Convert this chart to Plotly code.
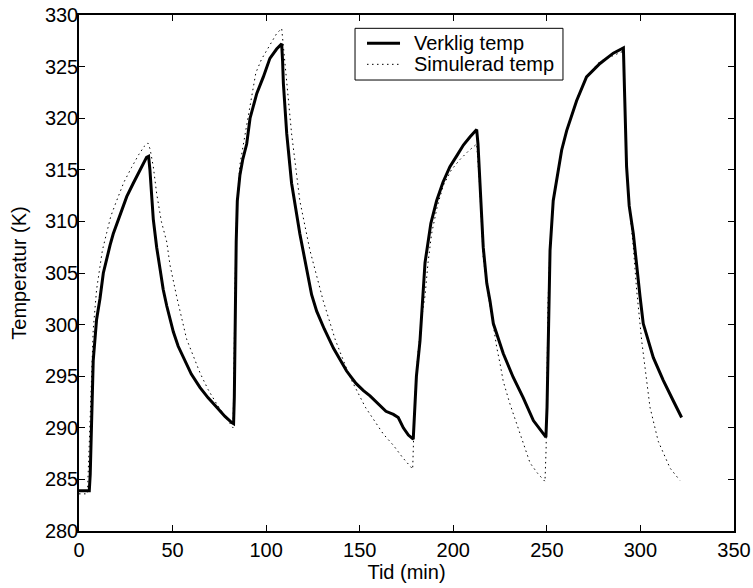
import plotly.graph_objects as go

t_real = [0, 5.5, 6.0, 6.6, 7.6, 9.4, 11.2, 13.0, 14.8, 16.6, 18.3, 21.9, 25.5, 29.0, 30.8, 32.6, 34.5, 36.1, 37.2,
          37.9, 39.7, 41.5, 43.3, 45.0, 46.9, 48.6, 50.4, 53.0, 55.7, 60.0, 64.7, 69.0, 73.6, 78.0, 81.6, 82.6,
          83.0, 83.4, 84.0, 84.6, 86.0, 87.5, 89.6, 91.4, 93.0, 95.0, 98.5, 102.0, 105.6, 108.3,
          108.8, 109.2, 111.0, 113.6, 118.0, 124.3, 127.0, 131.0, 136.0, 143.0, 148.0, 152.0, 155.5, 160.0,
          164.0, 168.0, 170.6, 173.3, 176.0, 178.6,
          179.3, 180.3, 182.2, 184.0, 184.9, 188.0, 191.1, 194.5, 198.2, 202.0, 205.4, 209.0, 212.5,
          213.2, 214.0, 216.0, 217.9, 219.6, 221.4, 225.0, 226.7, 232.0, 237.4, 242.8, 248.1, 249.5,
          250.1, 250.8, 251.7, 253.4, 256.1, 257.9, 260.6, 265.9, 271.2, 278.4, 285.5, 290.9,
          291.6, 292.6, 294.0, 296.2, 299.8, 301.5, 306.9, 312.2, 317.6, 322.0]
y_real = [283.9, 283.9, 285.5, 289.0, 296.5, 300.5, 302.5, 305.0, 306.5, 307.7, 308.8, 310.6, 312.4, 313.7, 314.3,
          314.9, 315.6, 316.2, 316.3,
          315.0, 310.2, 307.5, 305.4, 303.4, 301.8, 300.6, 299.3, 297.9, 296.8, 295.2, 293.9, 292.9, 292.0, 291.1,
          290.5, 290.4,
          293.0, 302.3, 308.0, 312.0, 314.5, 316.0, 317.5, 320.0, 321.2, 322.4, 324.0, 325.8, 326.7, 327.2,
          325.5, 323.4, 318.5, 313.7, 308.8, 302.9, 301.3, 299.6, 297.7, 295.5, 294.3, 293.6, 293.1, 292.3,
          291.6, 291.3, 291.0, 290.0, 289.3, 288.9,
          291.5, 295.0, 298.4, 303.3, 306.0, 309.8, 312.0, 313.8, 315.3, 316.4, 317.4, 318.2, 318.9,
          317.5, 314.5, 307.5, 304.0, 302.3, 300.1, 298.1, 297.2, 294.9, 292.9, 290.7, 289.4, 289.1,
          292.0, 300.0, 307.2, 312.0, 315.2, 316.9, 318.8, 321.7, 324.0, 325.3, 326.3, 326.8,
          322.0, 315.3, 311.5, 308.8, 302.7, 300.1, 296.8, 294.6, 292.6, 291.0]

# Simulerad temp (model)
t_sim = [0, 4.5, 5.2, 6.0, 6.8, 7.6, 9.4, 11.0, 12.5, 14.8, 17.0, 20.1, 24.0, 28.0, 32.0, 35.0, 36.8,
         38.0, 39.7, 41.5, 44.0, 46.9, 48.6, 52.2, 57.5, 64.7, 69.0, 73.6, 78.0, 81.6, 82.3,
         82.8, 83.3, 84.3, 86.0, 89.0, 91.5, 94.5, 97.5, 100.3, 105.6, 108.3,
         109.5, 111.0, 113.6, 118.0, 123.4, 130.5, 137.0, 144.8, 153.0, 162.6, 168.0, 173.0, 178.3,
         178.8, 179.5, 181.0, 183.0, 184.9, 186.5, 188.4, 191.5, 194.7, 199.0, 203.6, 208.0, 212.5,
         213.2, 214.0, 216.0, 218.5, 221.0, 223.2, 225.0, 226.7, 230.3, 233.9, 237.4, 241.0, 245.0, 249.0,
         249.6, 250.1, 250.6, 251.6, 253.4, 257.9, 260.6, 265.9, 271.2, 278.4, 285.5, 290.9,
         291.8, 292.8, 294.3, 296.2, 298.0, 300.7, 305.1, 309.5, 315.8, 321.1]
y_sim = [283.6, 283.6, 287.0, 292.0, 296.0, 299.5, 303.4, 305.6, 307.2, 308.9, 310.5, 312.0, 313.8, 315.2, 316.5,
         317.3, 317.6,
         317.0, 315.3, 312.7, 310.0, 308.0, 305.8, 302.7, 298.6, 295.3, 293.7, 292.3, 291.1, 290.2, 290.0,
         295.0, 303.0, 311.5, 315.5, 318.7, 321.2, 324.4, 325.7, 326.6, 328.2, 328.7,
         326.5, 323.4, 318.5, 312.0, 307.2, 302.3, 298.5, 294.9, 292.0, 289.4, 288.3, 287.1, 286.0,
         289.0, 293.0, 297.0, 300.5, 302.8, 306.0, 308.8, 311.5, 313.5, 315.0, 316.0, 316.8, 317.5,
         316.0, 313.7, 306.5, 303.0, 300.4, 297.8, 296.2, 294.5, 292.3, 290.4, 288.4, 286.6, 285.6, 284.8,
         288.0, 295.0, 302.0, 307.2, 312.0, 316.8, 318.7, 321.8, 324.1, 325.5, 326.1, 326.5,
         321.0, 315.0, 311.0, 307.5, 303.3, 298.4, 292.0, 288.7, 286.1, 284.9]

x_ticks = [0, 50, 100, 150, 200, 250, 300, 350]
y_ticks = [280, 285, 290, 295, 300, 305, 310, 315, 320, 325, 330]
series_names = ["Verklig temp", "Simulerad temp"]

FONT = "Liberation Sans, Arial, sans-serif"
FS = 20
DOT = "1.5px,3.5px"

fig = go.Figure()
fig.add_trace(go.Scatter(x=t_real, y=y_real, mode="lines", name=series_names[0],
                         line=dict(color="black", width=3), showlegend=False))
fig.add_trace(go.Scatter(x=t_sim, y=y_sim, mode="lines", name=series_names[1],
                         line=dict(color="black", width=1, dash=DOT), showlegend=False))

axis_common = dict(showgrid=False, zeroline=False, showline=True, linecolor="black", linewidth=1.5,
                   mirror="ticks", ticks="inside", ticklen=6, tickwidth=1, tickcolor="black",
                   automargin=False, ticklabeloverflow="allow",
                   tickfont=dict(family=FONT, size=FS, color="black"))

fig.update_xaxes(range=[0, 350], tickvals=x_ticks, ticktext=[str(v) for v in x_ticks],
                 title=dict(text="Tid (min)", font=dict(family=FONT, size=FS, color="black"), standoff=4),
                 **axis_common)
fig.update_yaxes(range=[280, 330], tickvals=y_ticks, ticktext=[str(v) for v in y_ticks],
                 ticklabelstandoff=-5,
                 title=dict(text="Temperatur (K)", font=dict(family=FONT, size=FS, color="black"), standoff=13),
                 **axis_common)

# legend box drawn in paper coordinates
lx0, lx1, ly0, ly1 = 0.4214, 0.7389, 0.874, 0.9742
row_y = [0.9452, 0.9044]
sx0, sx1, tx = 0.4397, 0.4901, 0.5084
shapes = [dict(type="rect", xref="paper", yref="paper", x0=lx0, x1=lx1, y0=ly0, y1=ly1,
               line=dict(color="black", width=1), fillcolor="white", layer="above")]
shapes.append(dict(type="line", xref="paper", yref="paper", x0=sx0, x1=sx1, y0=row_y[0], y1=row_y[0],
                   line=dict(color="black", width=3), layer="above"))
shapes.append(dict(type="line", xref="paper", yref="paper", x0=sx0, x1=sx1, y0=row_y[1], y1=row_y[1],
                   line=dict(color="black", width=1, dash=DOT), layer="above"))
annotations = [dict(xref="paper", yref="paper", x=tx, y=ry, xanchor="left", yanchor="middle",
                    text=nm, showarrow=False, font=dict(family=FONT, size=FS, color="black"))
               for nm, ry in zip(series_names, row_y)]

fig.update_layout(
    width=753, height=588,
    margin=dict(l=79, r=19, t=15, b=57),
    paper_bgcolor="white", plot_bgcolor="white",
    font=dict(family=FONT, size=FS, color="black"),
    showlegend=False,
    shapes=shapes, annotations=annotations,
)

# remove the default 8px page margin so the figure fills the window exactly
fig.write_html("out.html", config={"displayModeBar": False},
               post_script="document.body.style.margin='0';document.body.style.overflow='hidden';")
